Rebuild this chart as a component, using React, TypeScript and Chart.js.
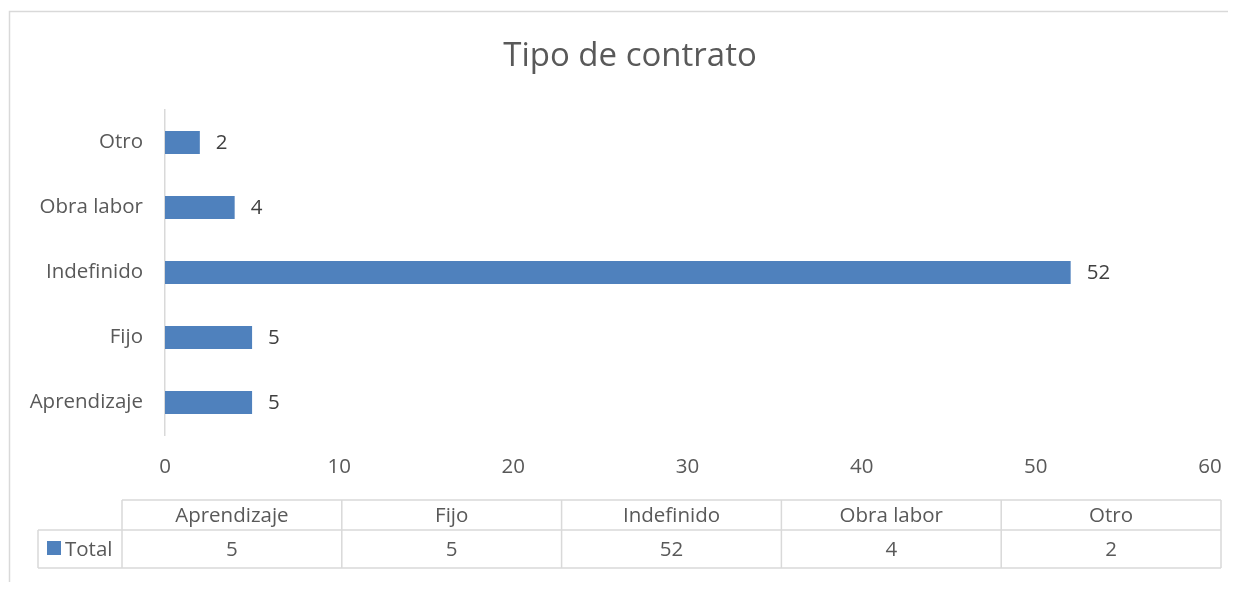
import React, { useEffect, useRef } from "react";
import { Chart, registerables } from "chart.js";

Chart.register(...registerables);

const categories = ["Aprendizaje", "Fijo", "Indefinido", "Obra labor", "Otro"];
const totals = [5, 5, 52, 4, 2];
const seriesName = "Total";
const chartTitle = "Tipo de contrato";
const xTicks = [0, 10, 20, 30, 40, 50, 60];

const BLUE = "#4F81BD";
const TEXT = "#595959";
const LABEL = "#404040";
const LINE = "#D9D9D9";
const FONT = "'Open Sans', 'Liberation Sans', sans-serif";
const FS = 20.5;

export default function App() {
  const ref = useRef<HTMLCanvasElement | null>(null);

  useEffect(() => {
    if (!ref.current) return;

    const frame = {
      id: "frame",
      beforeDraw(chart: any) {
        const ctx = chart.ctx;
        ctx.save();
        ctx.fillStyle = "#ffffff";
        ctx.fillRect(0, 0, chart.width, chart.height);
        ctx.strokeStyle = LINE;
        ctx.lineWidth = 1.5;
        ctx.beginPath();
        ctx.moveTo(1.5, chart.height + 5);
        ctx.lineTo(1.5, 3.5);
        ctx.lineTo(chart.width + 5, 3.5);
        ctx.stroke();
        ctx.font = `33px ${FONT}`;
        ctx.fillStyle = TEXT;
        ctx.textAlign = "center";
        ctx.textBaseline = "middle";
        ctx.fillText(chartTitle, 622, 49);
        ctx.restore();
      },
    };

    const valueLabels = {
      id: "valueLabels",
      afterDatasetsDraw(chart: any) {
        const ctx = chart.ctx;
        const meta = chart.getDatasetMeta(0);
        ctx.save();
        ctx.font = `${FS}px ${FONT}`;
        ctx.fillStyle = LABEL;
        ctx.textAlign = "left";
        ctx.textBaseline = "middle";
        meta.data.forEach((bar: any, i: number) => {
          ctx.fillText(String(totals[i]), bar.x + 16, bar.y + 1);
        });
        ctx.restore();
      },
    };

    const dataTable = {
      id: "dataTable",
      afterDraw(chart: any) {
        const ctx = chart.ctx;
        const left = 114;
        const right = 1213;
        const legendLeft = 30;
        const top = 492;
        const mid = 522;
        const bottom = 560;
        const n = categories.length;
        const colW = (right - left) / n;
        ctx.save();
        ctx.strokeStyle = LINE;
        ctx.lineWidth = 1.5;
        ctx.beginPath();
        ctx.moveTo(left, top); ctx.lineTo(right, top);
        ctx.moveTo(legendLeft, mid); ctx.lineTo(right, mid);
        ctx.moveTo(legendLeft, bottom); ctx.lineTo(right, bottom);
        ctx.moveTo(legendLeft, mid); ctx.lineTo(legendLeft, bottom);
        for (let i = 0; i <= n; i++) {
          const x = left + colW * i;
          ctx.moveTo(x, top); ctx.lineTo(x, bottom);
        }
        ctx.stroke();

        ctx.font = `${FS}px ${FONT}`;
        ctx.fillStyle = TEXT;
        ctx.textAlign = "center";
        ctx.textBaseline = "middle";
        for (let i = 0; i < n; i++) {
          const cx = left + colW * (i + 0.5);
          ctx.fillText(categories[i], cx, (top + mid) / 2 + 1);
          ctx.fillText(String(totals[i]), cx, (mid + bottom) / 2 + 1);
        }
        ctx.fillStyle = BLUE;
        ctx.fillRect(39, 533, 14, 14);
        ctx.fillStyle = TEXT;
        ctx.textAlign = "left";
        ctx.fillText(seriesName, 57, (mid + bottom) / 2 + 1);
        ctx.restore();
      },
    };

    const chart = new Chart(ref.current, {
      type: "bar",
      data: {
        labels: categories,
        datasets: [
          {
            label: seriesName,
            data: totals,
            backgroundColor: BLUE,
            borderWidth: 0,
            barPercentage: 0.354,
            categoryPercentage: 1,
          },
        ],
      },
      options: {
        indexAxis: "y",
        animation: false,
        responsive: false,
        maintainAspectRatio: false,
        layout: { padding: { top: 102, left: 0, right: 18, bottom: 102 } },
        plugins: {
          legend: { display: false },
          tooltip: { enabled: false },
          title: { display: false },
        },
        scales: {
          x: {
            min: 0,
            max: 60,
            afterBuildTicks(scale: any) {
              scale.ticks = xTicks.map((v) => ({ value: v }));
            },
            afterFit(scale: any) {
              scale.height = 45;
              scale.paddingLeft = 0;
              scale.paddingRight = 0;
            },
            grid: { display: false, drawTicks: false },
            border: { display: false },
            ticks: {
              color: TEXT,
              font: { family: FONT, size: FS },
              padding: 20,
              maxRotation: 0,
            },
          },
          y: {
            reverse: true,
            afterFit(scale: any) {
              scale.width = 157;
              scale.paddingTop = 0;
              scale.paddingBottom = 0;
            },
            grid: { display: false, drawTicks: false },
            border: { display: true, color: LINE, width: 1.5 },
            ticks: {
              color: TEXT,
              font: { family: FONT, size: FS },
              padding: 22,
            },
          },
        },
      },
      plugins: [frame, valueLabels, dataTable],
    });

    return () => chart.destroy();
  }, []);

  return (
    <div style={{ position: "relative", width: 1220, height: 574 }}>
      <canvas ref={ref} width={1220} height={574} style={{ display: "block" }} />
    </div>
  );
}
